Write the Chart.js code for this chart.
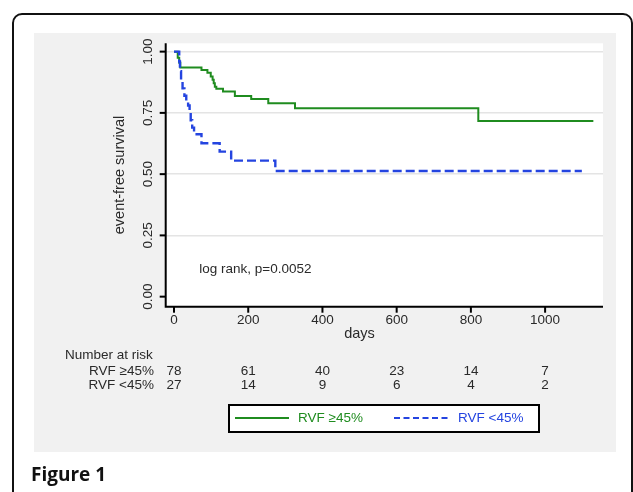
<!DOCTYPE html>
<html>
<head>
<meta charset="utf-8">
<script src="https://cdn.jsdelivr.net/npm/chart.js@4.4.1/dist/chart.umd.min.js"></script>
<style>
html, body { margin: 0; padding: 0; background: #fff; width: 633px; height: 492px; overflow: hidden; }
#frame { position: absolute; left: 12px; top: 13px; width: 621px; height: 530px; border: 2px solid #111; border-radius: 10px; box-sizing: border-box; }
#wrap { position: absolute; left: 0; top: 0; width: 633px; height: 492px; }
#fig { position: absolute; left: 31px; top: 465px; font-family: "Open Sans", sans-serif; font-weight: 700; font-size: 19px; line-height: 19px; color: #111; }
</style>
</head>
<body>
<div id="frame"></div>
<div id="wrap"><canvas id="km" width="633" height="492"></canvas></div>
<div id="fig">Figure 1</div>
<script>
// Kaplan-Meier steps (day, survival after that day)
const greenDays = [0, 10, 14, 17, 74, 90, 99, 104, 107, 110, 114, 132, 164, 208, 254, 326, 820, 1130];
const greenSurv = [1, 0.975, 0.955, 0.935, 0.925, 0.914, 0.898, 0.885, 0.871, 0.857, 0.848, 0.837, 0.819, 0.807, 0.789, 0.769, 0.717, 0.717];
const blueDays = [0, 14, 16, 19, 23, 28, 33, 38, 42, 45, 49, 54, 74, 123, 154, 273, 1099];
const blueSurv = [1, 0.96, 0.92, 0.88, 0.85, 0.82, 0.80, 0.78, 0.75, 0.72, 0.69, 0.663, 0.626, 0.592, 0.555, 0.513, 0.513];

const seriesNames = ['RVF \u226545%', 'RVF <45%'];
const xTicks = [0, 200, 400, 600, 800, 1000];
const yTicks = [0, 0.25, 0.5, 0.75, 1];
const yTickLabels = ['0.00', '0.25', '0.50', '0.75', '1.00'];

// number at risk table
const riskTimes = [0, 200, 400, 600, 800, 1000];
const riskHigh = [78, 61, 40, 23, 14, 7];
const riskLow = [27, 14, 9, 6, 4, 2];

const GREEN = '#1f8c1f';
const BLUE = '#2444e0';
const TXT = '#2a2a2a';
const FONT = '"Liberation Sans", Arial, sans-serif';

function pts(xs, ys) {
    return xs.map((x, i) => ({ x: x, y: ys[i] }));
}

const decor = {
    id: 'decor',
    beforeDraw(chart) {
        const ctx = chart.ctx, a = chart.chartArea;
        ctx.save();
        ctx.fillStyle = '#f1f1f1';
        ctx.fillRect(34, 33, 582, 419);
        ctx.fillStyle = '#fff';
        ctx.fillRect(a.left, a.top, a.right - a.left, a.bottom - a.top);
        ctx.restore();
    },
    afterDraw(chart) {
        const ctx = chart.ctx, a = chart.chartArea;
        const xs = chart.scales.x, ys = chart.scales.y;
        ctx.save();
        // axes
        ctx.strokeStyle = '#000';
        ctx.lineWidth = 2;
        ctx.beginPath();
        ctx.moveTo(a.left, a.top);
        ctx.lineTo(a.left, a.bottom);
        ctx.lineTo(a.right, a.bottom);
        ctx.stroke();

        ctx.fillStyle = TXT;
        ctx.font = '13.5px ' + FONT;
        ctx.textAlign = 'center';
        ctx.textBaseline = 'middle';

        // y ticks + rotated labels
        yTicks.forEach((v, i) => {
            const py = ys.getPixelForValue(v);
            ctx.beginPath();
            ctx.moveTo(a.left - 6, py);
            ctx.lineTo(a.left, py);
            ctx.stroke();
            ctx.save();
            ctx.translate(148, py);
            ctx.rotate(-Math.PI / 2);
            ctx.fillText(yTickLabels[i], 0, 0);
            ctx.restore();
        });

        // x ticks
        xTicks.forEach(v => {
            const px = xs.getPixelForValue(v);
            ctx.beginPath();
            ctx.moveTo(px, a.bottom);
            ctx.lineTo(px, a.bottom + 6);
            ctx.stroke();
            ctx.fillText(String(v), px, 320);
        });

        // annotation
        ctx.textAlign = 'left';
        ctx.fillText('log rank, p=0.0052', xs.getPixelForValue(68), ys.getPixelForValue(0.112));

        // number at risk
        ctx.fillText('Number at risk', 65, 355);
        ctx.textAlign = 'right';
        ctx.fillText(seriesNames[0], 154, 371);
        ctx.fillText(seriesNames[1], 154, 385);
        ctx.textAlign = 'center';
        riskTimes.forEach((t, i) => {
            const px = xs.getPixelForValue(t);
            ctx.fillText(String(riskHigh[i]), px, 371);
            ctx.fillText(String(riskLow[i]), px, 385);
        });

        // axis titles
        ctx.font = '14.5px ' + FONT;
        ctx.fillText('days', xs.getPixelForValue(500), 334);
        ctx.save();
        ctx.translate(120, (a.top + a.bottom) / 2);
        ctx.rotate(-Math.PI / 2);
        ctx.fillText('event-free survival', 0, 0);
        ctx.restore();

        // legend
        ctx.font = '13.5px ' + FONT;
        ctx.fillStyle = '#fff';
        ctx.fillRect(229, 405, 310, 27);
        ctx.strokeStyle = '#000';
        ctx.lineWidth = 2;
        ctx.strokeRect(229, 405, 310, 27);
        ctx.strokeStyle = GREEN;
        ctx.beginPath();
        ctx.moveTo(235, 418);
        ctx.lineTo(289, 418);
        ctx.stroke();
        ctx.strokeStyle = BLUE;
        ctx.setLineDash([6, 3.5]);
        ctx.beginPath();
        ctx.moveTo(394, 418);
        ctx.lineTo(449, 418);
        ctx.stroke();
        ctx.setLineDash([]);
        ctx.textAlign = 'left';
        ctx.fillStyle = GREEN;
        ctx.fillText(seriesNames[0], 298, 418);
        ctx.fillStyle = BLUE;
        ctx.fillText(seriesNames[1], 458, 418);
        ctx.restore();
    }
};

new Chart(document.getElementById('km'), {
    type: 'line',
    data: {
        datasets: [
            { label: seriesNames[1], data: pts(blueDays, blueSurv), borderColor: BLUE, borderWidth: 2.4, borderDash: [9, 4], stepped: 'before', pointRadius: 0, fill: false },
            { label: seriesNames[0], data: pts(greenDays, greenSurv), borderColor: GREEN, borderWidth: 2, stepped: 'before', pointRadius: 0, fill: false }
        ]
    },
    options: {
        responsive: false,
        animation: false,
        events: [],
        layout: { padding: { left: 165.7, right: 30, top: 43.3, bottom: 185.3 } },
        plugins: { legend: { display: false }, tooltip: { enabled: false } },
        scales: {
            x: { type: 'linear', min: -22.4, max: 1156, display: false },
            y: {
                type: 'linear', min: -0.041, max: 1.034,
                afterFit: s => { s.width = 0; },
                afterBuildTicks: s => { s.ticks = yTicks.map(v => ({ value: v })); },
                ticks: { display: false },
                border: { display: false },
                grid: { drawTicks: false, lineWidth: 1.6, color: c => (c.tick && c.tick.value > 0 ? '#e4e4e4' : 'rgba(0,0,0,0)') }
            }
        }
    },
    plugins: [decor]
});
</script>
</body>
</html>
